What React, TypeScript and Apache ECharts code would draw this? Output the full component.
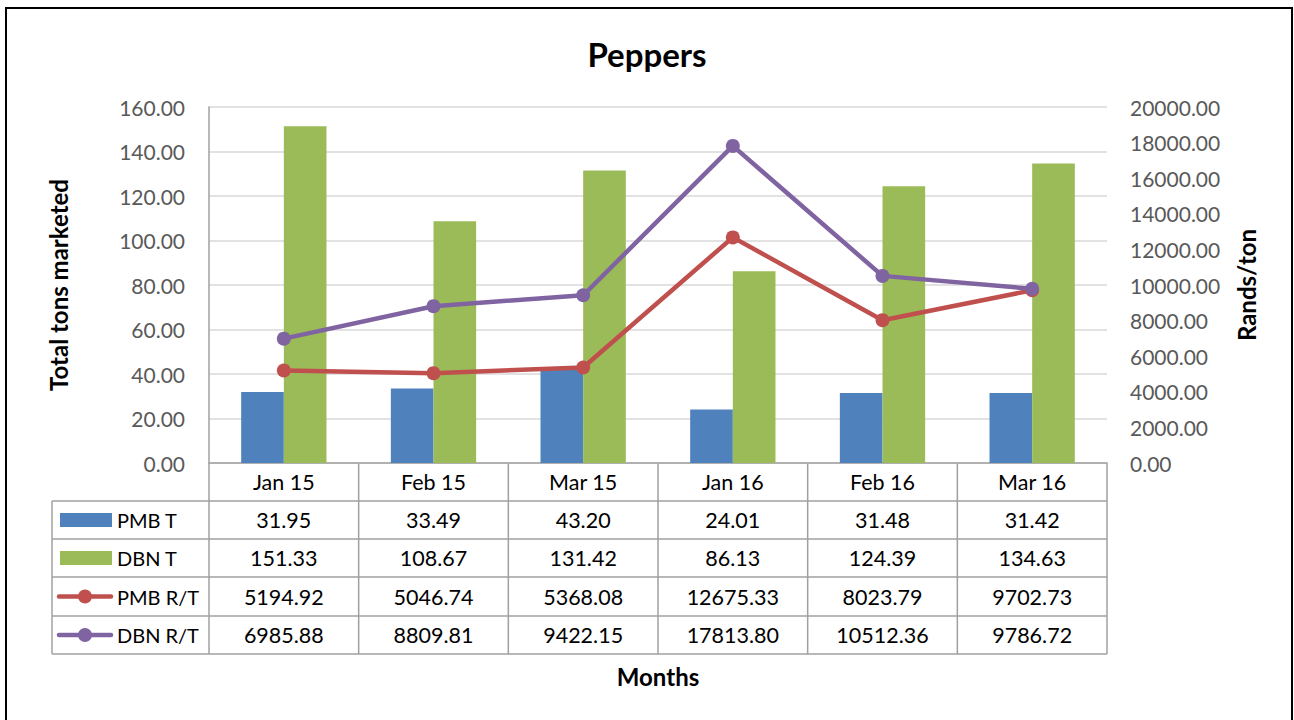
import React, { useEffect, useRef } from "react";
import * as echarts from "echarts";

const categories = ["Jan 15", "Feb 15", "Mar 15", "Jan 16", "Feb 16", "Mar 16"];
const pmbT = [31.95, 33.49, 43.2, 24.01, 31.48, 31.42];
const dbnT = [151.33, 108.67, 131.42, 86.13, 124.39, 134.63];
const pmbRT = [5194.92, 5046.74, 5368.08, 12675.33, 8023.79, 9702.73];
const dbnRT = [6985.88, 8809.81, 9422.15, 17813.8, 10512.36, 9786.72];
const seriesNames = ["PMB T", "DBN T", "PMB R/T", "DBN R/T"];
const colors = ["#4F81BD", "#9BBB59", "#C0504D", "#8064A2"];

const W = 1294;
const H = 720;
const FONT = "Lato, 'Open Sans', sans-serif";

export default function App() {
  const ref = useRef<HTMLDivElement>(null);
  useEffect(() => {
    if (!ref.current) return;
    const chart = echarts.init(ref.current, null, { renderer: "svg" });

    const gl = 209, gr = 1107, gt = 107, gb = 463;
    const tableLeft = 52;
    const rowTops = [501, 539, 577, 616, 654];
    const colW = (gr - gl) / categories.length;
    const lineColor = "#A0A0A0";
    const rows = [pmbT, dbnT, pmbRT, dbnRT];
    const cellFont = `21.5px ${FONT}`;
    const legendFont = `20px ${FONT}`;
    const boldFont = `bold 24px ${FONT}`;

    const graphics: any[] = [];
    graphics.push({
      type: "rect",
      shape: { x: 6, y: 8, width: 1286, height: 730 },
      style: { fill: "none", stroke: "#000", lineWidth: 2 },
      silent: true,
    });
    rowTops.forEach((y) => {
      graphics.push({
        type: "line",
        shape: { x1: tableLeft, y1: y, x2: gr, y2: y },
        style: { stroke: lineColor, lineWidth: 1.5 },
      });
    });
    graphics.push({
      type: "line",
      shape: { x1: tableLeft, y1: rowTops[0], x2: tableLeft, y2: rowTops[4] },
      style: { stroke: lineColor, lineWidth: 1.5 },
    });
    for (let k = 0; k <= categories.length; k++) {
      const x = gl + k * colW;
      graphics.push({
        type: "line",
        shape: { x1: x, y1: gb, x2: x, y2: rowTops[4] },
        style: { stroke: lineColor, lineWidth: 1.5 },
      });
    }
    rows.forEach((vals, r) => {
      const cy = (rowTops[r] + rowTops[r + 1]) / 2;
      vals.forEach((v, k) => {
        graphics.push({
          type: "text",
          x: gl + (k + 0.5) * colW,
          y: cy,
          style: {
            text: v.toFixed(2),
            fill: "#000",
            font: cellFont,
            align: "center",
            verticalAlign: "middle",
          },
        });
      });
      if (r < 2) {
        graphics.push({
          type: "rect",
          shape: { x: 60, y: cy - 7, width: 52, height: 14 },
          style: { fill: colors[r] },
        });
      } else {
        graphics.push({
          type: "line",
          shape: { x1: 59, y1: cy, x2: 111, y2: cy },
          style: { stroke: colors[r], lineWidth: 4.5, lineCap: "round" },
        });
        graphics.push({
          type: "circle",
          shape: { cx: 85, cy: cy, r: 7 },
          style: { fill: colors[r] },
        });
      }
      graphics.push({
        type: "text",
        x: 117,
        y: cy,
        style: {
          text: seriesNames[r],
          fill: "#000",
          font: legendFont,
          align: "left",
          verticalAlign: "middle",
        },
      });
    });
    graphics.push({
      type: "text",
      x: 658,
      y: 676,
      style: { text: "Months", fill: "#000", font: boldFont, align: "center", verticalAlign: "middle" },
    });
    graphics.push({
      type: "text",
      x: 58,
      y: 285,
      rotation: Math.PI / 2,
      style: { text: "Total tons marketed", fill: "#000", font: boldFont, align: "center", verticalAlign: "middle" },
    });
    graphics.push({
      type: "text",
      x: 1246,
      y: 285,
      rotation: Math.PI / 2,
      style: { text: "Rands/ton", fill: "#000", font: boldFont, align: "center", verticalAlign: "middle" },
    });

    chart.setOption({
      animation: false,
      textStyle: { fontFamily: FONT },
      title: {
        text: "Peppers",
        left: "center",
        top: 32,
        textStyle: { fontSize: 33, fontWeight: "bold", color: "#000", fontFamily: FONT },
      },
      grid: { left: gl, right: W - gr, top: gt, bottom: H - gb },
      xAxis: {
        type: "category",
        data: categories,
        axisLine: { show: true, lineStyle: { color: lineColor, width: 1.5 } },
        axisTick: { show: false },
        axisLabel: { color: "#000", fontSize: 21.5, margin: 8, fontFamily: FONT },
      },
      yAxis: [
        {
          type: "value",
          min: 0,
          max: 160,
          interval: 20,
          axisLine: { show: true, lineStyle: { color: lineColor, width: 1.5 } },
          axisTick: { show: false },
          axisLabel: {
            color: "#595959",
            fontSize: 21,
            margin: 24,
            fontFamily: FONT,
            formatter: (v: number) => v.toFixed(2),
          },
          splitLine: { lineStyle: { color: "#D9D9D9", width: 1.5 } },
        },
        {
          type: "value",
          min: 0,
          max: 20000,
          interval: 2000,
          position: "right",
          axisLine: { show: false },
          axisTick: { show: false },
          axisLabel: {
            color: "#595959",
            fontSize: 21,
            margin: 23,
            fontFamily: FONT,
            formatter: (v: number) => v.toFixed(2),
          },
          splitLine: { show: false },
        },
      ],
      series: [
        {
          name: seriesNames[0],
          type: "bar",
          data: pmbT,
          itemStyle: { color: colors[0] },
          barGap: "0%",
          barCategoryGap: "43%",
          yAxisIndex: 0,
        },
        {
          name: seriesNames[1],
          type: "bar",
          data: dbnT,
          itemStyle: { color: colors[1] },
          barGap: "0%",
          barCategoryGap: "43%",
          yAxisIndex: 0,
        },
        {
          name: seriesNames[2],
          type: "line",
          data: pmbRT,
          yAxisIndex: 1,
          symbol: "circle",
          symbolSize: 14,
          lineStyle: { color: colors[2], width: 4.5 },
          itemStyle: { color: colors[2] },
        },
        {
          name: seriesNames[3],
          type: "line",
          data: dbnRT,
          yAxisIndex: 1,
          symbol: "circle",
          symbolSize: 14,
          lineStyle: { color: colors[3], width: 4.5 },
          itemStyle: { color: colors[3] },
        },
      ],
      graphic: graphics,
    });
    return () => chart.dispose();
  }, []);
  return (
    <div
      ref={ref}
      style={{ position: "fixed", left: 0, top: 0, width: W, height: H, background: "#fff" }}
    />
  );
}
